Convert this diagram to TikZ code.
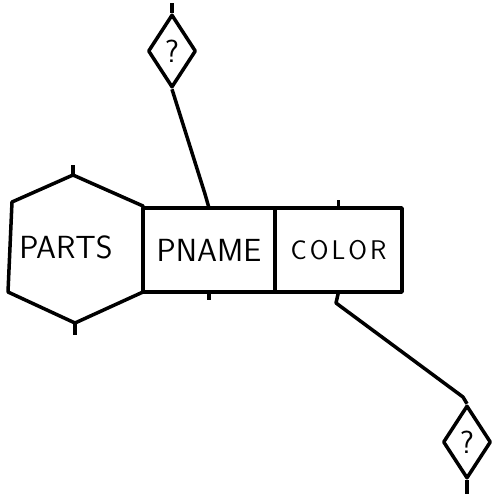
\documentclass[tikz,border=0pt]{standalone}
\usetikzlibrary{shapes.geometric}

\begin{document}
\begin{tikzpicture}[x=1pt,y=-1pt,line width=3.5pt,line join=round,
  field/.style={draw,minimum height=84pt,inner sep=0pt,outer sep=0pt,font=\fontsize{32}{38}\sffamily},
  query/.style={draw,diamond,minimum width=48pt,minimum height=73pt,inner sep=0pt,font=\fontsize{32}{38}\sffamily}]
  \useasboundingbox (0,0) rectangle (493,496);

  \coordinate (h1) at (73,175);
  \coordinate (h2) at (143,206);
  \coordinate (h3) at (143,292);
  \coordinate (h4) at (75,323);
  \coordinate (h5) at (8,292);
  \coordinate (h6) at (12,202);
  \draw (h1) -- (h2) -- (h3) -- (h4) -- (h5) -- (h6) -- cycle;
  \node[font=\fontsize{32}{38}\sffamily] (parts) at (66,247) {PARTS};

  \node[field,minimum width=132pt] (pname) at (209,250) {PNAME};
  \node[field,minimum width=127pt,anchor=west,font=\fontsize{27}{32}\sffamily] (color) at (pname.east) {C\kern3ptO\kern3ptL\kern3ptO\kern3ptR};

  \node[query] (q1) at (172,51) {?};
  \node[query] (q2) at (467,442) {?};

  \coordinate (k1) at (205,194);
  \coordinate (k2) at (336,303);
  \coordinate (k3) at (463,397);
  \draw (q1.south) -- (k1) -- (pname.north);
  \draw (color.south) -- (k2) -- (k3) -- (q2.north);

  \foreach \a/\d in {q1.north/-10,q2.south/14,pname.south/8,color.north/-8,h1/-10,h4/12}
    \draw (\a) -- ++(0,\d);
\end{tikzpicture}
\end{document}
